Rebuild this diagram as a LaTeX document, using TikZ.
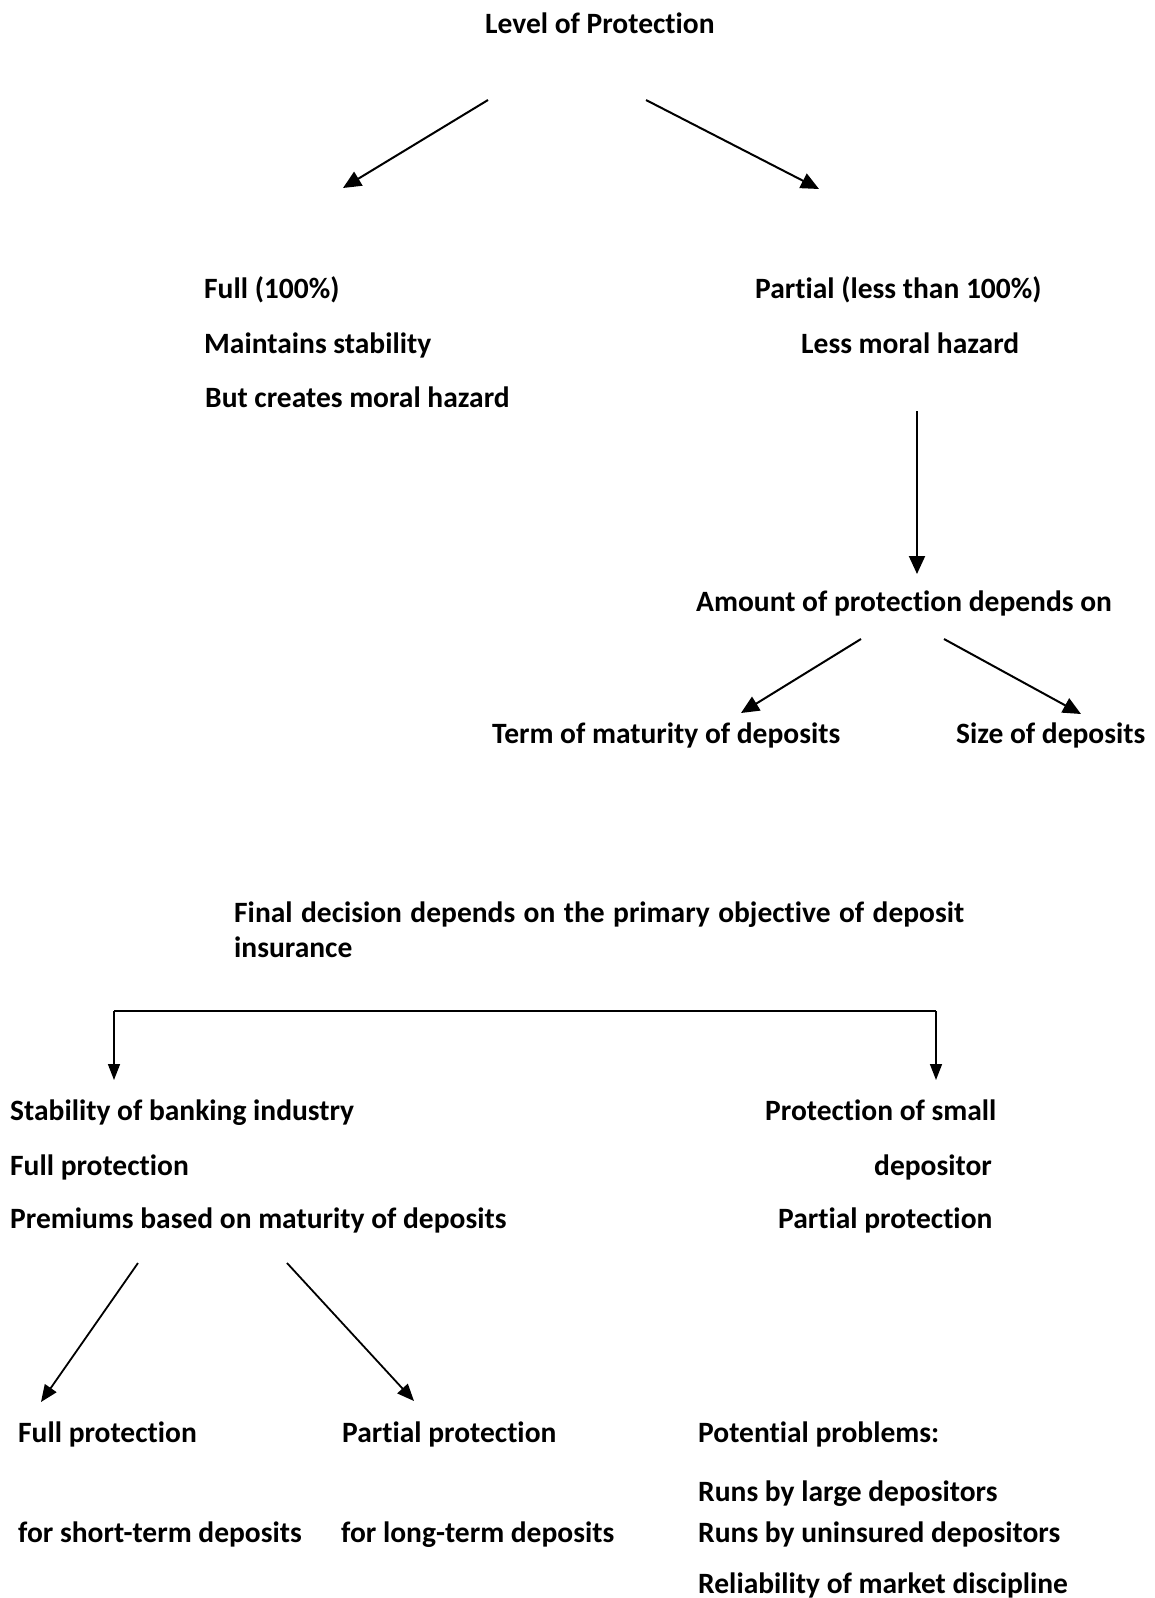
\documentclass[tikz,border=0pt]{standalone}
\usepackage{fontspec}
\setmainfont{Carlito}[Ligatures={NoCommon}]
\usetikzlibrary{arrows.meta}
\begin{document}
\begin{tikzpicture}[x=1pt,y=-1pt,
  lbl/.style={anchor=base west, inner sep=0pt, font=\fontsize{29.5}{35}\selectfont\bfseries},
  bigarr/.style={-{Triangle[length=18pt,width=16pt]}, line width=2pt},
  midarr/.style={-{Triangle[length=17pt,width=14pt]}, line width=1.8pt},
  thinarr/.style={-{Triangle[length=16pt,width=12pt]}, line width=1.5pt}]
\useasboundingbox (0,0) rectangle (1155,1598);
% top
\node[lbl] (title) at (485,33) {Level of Protection};
\coordinate (t1) at (488,100); \coordinate (t1e) at (343,188);
\coordinate (t2) at (646,100); \coordinate (t2e) at (819,189);
\draw[bigarr] (t1) -- (t1e);
\draw[bigarr] (t2) -- (t2e);
\node[lbl] (full) at (204,298) {Full (100\%)};
\node[lbl] (maint) at (204,353) {Maintains stability};
\node[lbl] (but) at (205,407) {But creates moral hazard};
\node[lbl] (partial) at (755,298) {Partial (less than 100\%)};
\node[lbl] (less) at (801,353) {Less moral hazard};
\coordinate (v1) at (917,411); \coordinate (v1e) at (917,574);
\draw[bigarr] (v1) -- (v1e);
\node[lbl] (amount) at (696,611) {Amount of protection depends on};
\coordinate (a1) at (861,639); \coordinate (a1e) at (741,713);
\coordinate (a2) at (944,639); \coordinate (a2e) at (1081,714);
\draw[bigarr] (a1) -- (a1e);
\draw[bigarr] (a2) -- (a2e);
\node[lbl] (term) at (492,743) {Term of maturity of deposits};
\node[lbl] (size) at (956,743) {Size of deposits};
% middle
\node[lbl] (final) at (234,922) {\makebox[730pt][s]{Final decision depends on the primary objective of deposit}};
\node[lbl] (ins) at (234,957) {insurance};
\coordinate (bl) at (114,1011); \coordinate (br) at (936,1011);
\coordinate (ble) at (114,1080); \coordinate (bre) at (936,1080);
\draw[line width=2pt] (bl) -- (br);
\draw[thinarr] (bl) -- (ble);
\draw[thinarr] (br) -- (bre);
\node[lbl] (stab) at (10,1120) {Stability of banking industry};
\node[lbl] (fullp) at (10,1175) {Full protection};
\node[lbl] (prem) at (10,1228) {Premiums based on maturity of deposits};
\node[lbl] (prot) at (765,1120) {Protection of small};
\node[lbl] (dep) at (874,1175) {depositor};
\node[lbl] (partp) at (778,1228) {Partial protection};
% bottom
\coordinate (b1) at (138,1263); \coordinate (b1e) at (41,1402);
\coordinate (b2) at (287,1263); \coordinate (b2e) at (414,1401);
\draw[midarr] (b1) -- (b1e);
\draw[midarr] (b2) -- (b2e);
\node[lbl] (fp2) at (18,1442) {Full protection};
\node[lbl] (pp2) at (342,1442) {Partial protection};
\node[lbl] (pot) at (698,1442) {Potential problems:};
\node[lbl] (runs1) at (698,1501) {Runs by large depositors};
\node[lbl] (short) at (18,1542) {for short-term deposits};
\node[lbl] (long) at (341,1542) {for long-term deposits};
\node[lbl] (runs2) at (698,1542) {Runs by uninsured depositors};
\node[lbl] (rel) at (698,1593) {Reliability of market discipline};
\end{tikzpicture}
\end{document}
